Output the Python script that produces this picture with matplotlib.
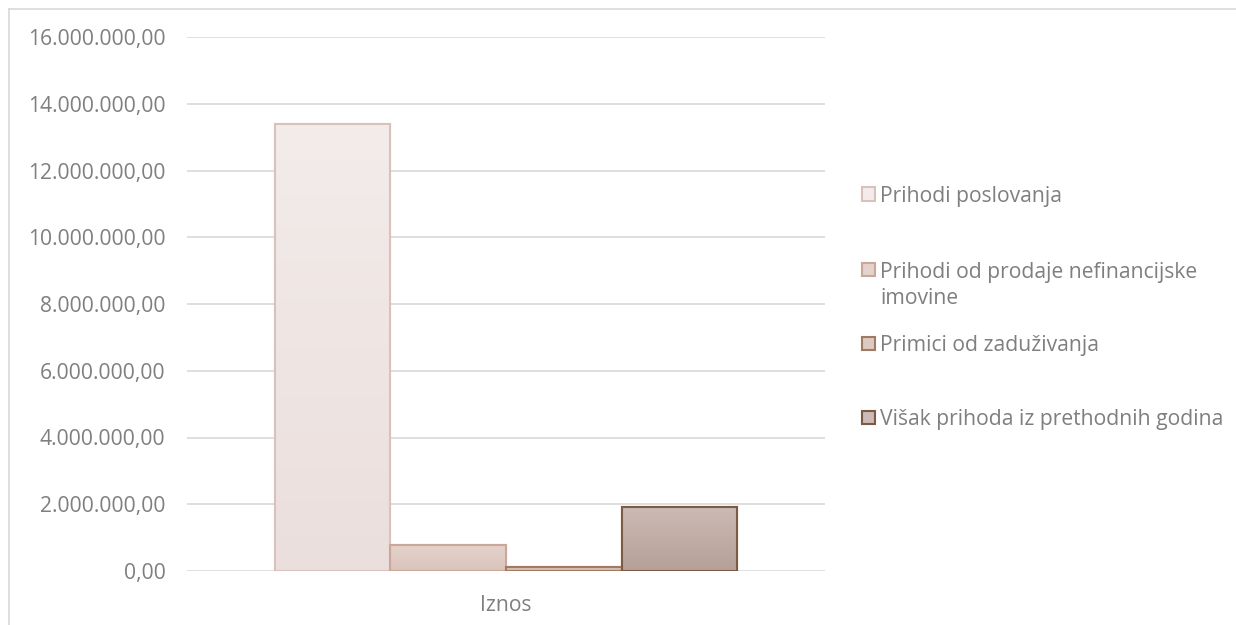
import numpy as np
import matplotlib.pyplot as plt
from matplotlib.patches import Rectangle
from matplotlib.colors import to_rgb
from matplotlib.ticker import FuncFormatter

# ---------- Data ----------
category = "Iznos"
series = [
    "Prihodi poslovanja",
    "Prihodi od prodaje nefinancijske\nimovine",
    "Primici od zaduživanja",
    "Višak prihoda iz prethodnih godina",
]
values = [13400000, 780000, 130000, 1930000]
yticks = [0, 2000000, 4000000, 6000000, 8000000, 10000000, 12000000, 14000000, 16000000]

# top / bottom gradient colours and edge colours per series
fill_top = ["#f3ecea", "#e4d3cc", "#dcc9c0", "#cbbab5"]
fill_bot = ["#ebdfdd", "#dac4bb", "#d2b8aa", "#b6a097"]
edges = ["#d9c2bb", "#c9a899", "#a07a62", "#7d5a44"]

plt.rcParams['font.family'] = ['Open Sans', 'DejaVu Sans']
FS = 15.2
GREY = '#7f7f7f'
W, H = 1236, 625

def fmt(v, pos):
    s = f"{v:,.2f}"
    return s.replace(",", "X").replace(".", ",").replace("X", ".")

fig = plt.figure(figsize=(W / 100, H / 100), dpi=100)
ax = fig.add_axes([187 / W, 54 / H, 638 / W, 534 / H])

n = len(series)
width = 0.1814
offsets = (np.arange(n) - (n - 1) / 2) * width

for i in range(n):
    bar = ax.bar(offsets[i], values[i], width=width, color=fill_bot[i],
                 edgecolor=edges[i], linewidth=1.5, zorder=3)[0]
    # vertical gradient inside the bar
    grad = np.linspace(0, 1, 100).reshape(-1, 1, 1)
    img = np.array(to_rgb(fill_top[i])) * (1 - grad) + np.array(to_rgb(fill_bot[i])) * grad
    x0 = bar.get_x()
    im = ax.imshow(img, extent=[x0, x0 + bar.get_width(), 0, bar.get_height()],
                   aspect='auto', zorder=3.5, origin='upper')
    im.set_clip_path(bar)
    ax.bar(offsets[i], values[i], width=width, color='none',
           edgecolor=edges[i], linewidth=1.5, zorder=4)

ax.set_xlim(-0.5, 0.5)
ax.set_ylim(0, 16000000)
ax.set_yticks(yticks)
ax.yaxis.set_major_formatter(FuncFormatter(fmt))
ax.set_xticks([0])
ax.set_xticklabels([category])
ax.grid(axis='y', color='#d9d9d9', linewidth=1.2, zorder=0)
ax.set_axisbelow(True)
for s in ax.spines.values():
    s.set_visible(False)
ax.tick_params(axis='both', length=0, colors=GREY, labelsize=FS)
ax.tick_params(axis='y', pad=15.5)
ax.tick_params(axis='x', pad=17)

# ---------- Legend (Excel-like uneven slots) ----------
leg_y = [194, 270, 343, 417]  # first-line centre, px from top
line_px = 26
for i in range(n):
    yc = 1 - leg_y[i] / H
    extra = series[i].count("\n")
    fig.add_artist(Rectangle((862 / W, yc - 6.5 / H), 13 / W, 13 / H,
                             facecolor=fill_top[i], edgecolor=edges[i],
                             linewidth=1.5, transform=fig.transFigure))
    fig.text(880 / W, yc - (8 + extra * line_px) / H, series[i], fontsize=FS,
             color=GREY, ha='left', va='baseline', linespacing=1.33)

# outer chart border (top and left only visible)
fig.add_artist(plt.Line2D([9 / W, 1], [1 - 9 / H, 1 - 9 / H], color='#d9d9d9', linewidth=1.2))
fig.add_artist(plt.Line2D([9 / W, 9 / W], [0, 1 - 9 / H], color='#d9d9d9', linewidth=1.2))

fig.savefig("out.png", dpi=100)
